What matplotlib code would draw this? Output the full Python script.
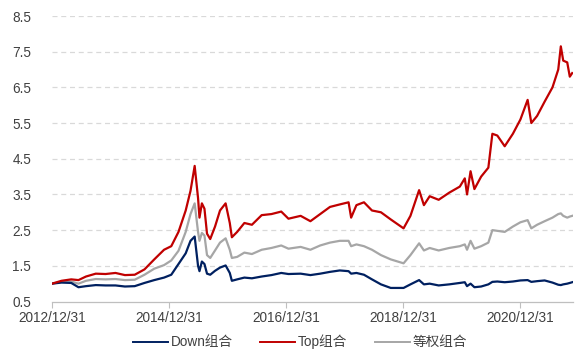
import matplotlib
matplotlib.use("Agg")
import matplotlib.pyplot as plt
import pandas as pd
from matplotlib.lines import Line2D

plt.rcParams['font.family'] = ['Liberation Sans', 'Noto Sans CJK SC', 'DejaVu Sans']

dates = [
    "2013-01-01", "2013-03-01", "2013-05-01", "2013-06-15", "2013-08-01", "2013-10-01",
    "2013-12-01", "2014-02-01", "2014-04-01", "2014-06-01", "2014-08-01", "2014-10-01",
    "2014-12-01", "2015-01-15", "2015-03-01", "2015-04-15", "2015-05-15", "2015-06-10",
    "2015-07-01", "2015-07-10", "2015-07-25", "2015-08-10", "2015-08-26", "2015-09-15",
    "2015-10-15", "2015-11-15", "2015-12-20", "2016-01-15", "2016-01-28", "2016-03-01",
    "2016-04-15", "2016-06-01", "2016-08-01", "2016-10-01", "2016-12-01", "2017-01-15",
    "2017-04-01", "2017-06-01", "2017-08-01", "2017-10-01", "2017-12-01", "2018-01-25",
    "2018-02-10", "2018-03-15", "2018-05-01", "2018-06-20", "2018-08-15", "2018-10-15",
    "2019-01-03", "2019-02-15", "2019-04-10", "2019-05-10", "2019-06-15", "2019-08-10",
    "2019-10-15", "2019-12-20", "2020-01-20", "2020-02-03", "2020-02-25", "2020-03-20",
    "2020-05-01", "2020-06-15", "2020-07-10", "2020-08-10", "2020-09-25", "2020-11-15",
    "2021-01-01", "2021-02-15", "2021-03-10", "2021-04-15", "2021-06-01", "2021-07-20",
    "2021-08-25", "2021-09-10", "2021-09-25", "2021-10-20", "2021-11-05", "2021-11-20",
]

top_vals = [
    1.00, 1.08, 1.12, 1.10, 1.20, 1.28,
    1.27, 1.30, 1.24, 1.25, 1.40, 1.68,
    1.95, 2.05, 2.45, 3.05, 3.60, 4.30,
    3.40, 2.85, 3.25, 3.10, 2.40, 2.25,
    2.60, 3.05, 3.25, 2.70, 2.30, 2.45,
    2.70, 2.65, 2.92, 2.95, 3.02, 2.82,
    2.90, 2.75, 2.95, 3.15, 3.22, 3.28,
    2.85, 3.20, 3.28, 3.05, 3.00, 2.80,
    2.55, 2.90, 3.62, 3.20, 3.45, 3.35,
    3.55, 3.72, 3.95, 3.50, 4.15, 3.65,
    4.00, 4.25, 5.20, 5.15, 4.85, 5.20,
    5.60, 6.15, 5.50, 5.70, 6.10, 6.50,
    7.00, 7.65, 7.25, 7.20, 6.80, 6.90,
]

eq_vals = [
    1.00, 1.05, 1.06, 1.00, 1.08, 1.13,
    1.12, 1.13, 1.10, 1.11, 1.25, 1.42,
    1.52, 1.65, 1.92, 2.45, 2.95, 3.25,
    2.45, 2.20, 2.42, 2.35, 1.80, 1.72,
    1.93, 2.15, 2.27, 1.95, 1.72, 1.75,
    1.87, 1.83, 1.95, 2.00, 2.07, 1.98,
    2.03, 1.95, 2.07, 2.15, 2.20, 2.20,
    2.05, 2.10, 2.05, 1.95, 1.80, 1.68,
    1.57, 1.80, 2.13, 1.93, 2.00, 1.93,
    2.00, 2.05, 2.10, 1.95, 2.20, 1.98,
    2.05, 2.15, 2.50, 2.48, 2.45, 2.60,
    2.72, 2.78, 2.55, 2.65, 2.75, 2.85,
    2.95, 2.97, 2.90, 2.85, 2.88, 2.90,
]

down_vals = [
    1.00, 1.03, 1.02, 0.90, 0.93, 0.96,
    0.95, 0.95, 0.92, 0.93, 1.02, 1.10,
    1.17, 1.25, 1.55, 1.85, 2.20, 2.32,
    1.50, 1.35, 1.62, 1.55, 1.28, 1.25,
    1.36, 1.45, 1.51, 1.30, 1.08, 1.12,
    1.17, 1.15, 1.20, 1.24, 1.30, 1.27,
    1.28, 1.24, 1.28, 1.33, 1.37, 1.35,
    1.28, 1.30, 1.25, 1.12, 0.98, 0.88,
    0.88, 0.98, 1.10, 0.98, 1.00, 0.95,
    0.98, 1.02, 1.04, 0.93, 1.00, 0.90,
    0.92, 0.98, 1.05, 1.06, 1.04, 1.06,
    1.09, 1.10, 1.05, 1.07, 1.09, 1.03,
    0.97, 0.96, 0.98, 1.00, 1.02, 1.04,
]

series_names = ["Down组合", "Top组合", "等权组合"]
y_ticks = [0.5, 1.5, 2.5, 3.5, 4.5, 5.5, 6.5, 7.5, 8.5]
x_tick_labels = ["2012/12/31", "2014/12/31", "2016/12/31", "2018/12/31", "2020/12/31"]
x_tick_dates = ["2013-01-01", "2015-01-01", "2017-01-01", "2019-01-01", "2021-01-01"]

x = pd.to_datetime(dates)

fig = plt.figure(figsize=(5.85, 3.57), dpi=100)
ax = fig.add_axes([52 / 585, 1 - 301.5 / 357, (573 - 52) / 585, (301.5 - 16) / 357])

colors = ["#002060", "#C00000", "#A6A6A6"]
ax.plot(x, down_vals, color=colors[0], lw=1.6, zorder=3)
ax.plot(x, top_vals, color=colors[1], lw=1.6, zorder=4)
ax.plot(x, eq_vals, color=colors[2], lw=1.6, zorder=2)

ax.set_xlim(pd.Timestamp("2013-01-01"), pd.Timestamp("2021-11-25"))
ax.set_ylim(0.5, 8.5)
ax.set_yticks(y_ticks)
ax.set_yticklabels([f"{v:.1f}" for v in y_ticks])
ax.set_xticks(pd.to_datetime(x_tick_dates))
ax.set_xticklabels(x_tick_labels)

for y in y_ticks[1:]:
    ax.axhline(y, color="#D9D9D9", lw=0.9, dashes=(4, 3), zorder=1)

for s in ["top", "right", "left"]:
    ax.spines[s].set_visible(False)
ax.spines["bottom"].set_color("#BFBFBF")
ax.spines["bottom"].set_linewidth(0.9)
ax.tick_params(axis="y", length=0, pad=15, labelsize=9.8, labelcolor="#404040")
ax.tick_params(axis="x", length=4, color="#BFBFBF", pad=3, labelsize=9.8, labelcolor="#404040")

handles = [Line2D([0], [0], color=c, lw=1.4) for c in colors]
fig.legend(handles, series_names, loc="center", bbox_to_anchor=(300 / 585, 1 - 342 / 357),
           ncol=3, frameon=False, fontsize=9.8, handlelength=2.6, handletextpad=0.2,
           columnspacing=2.0, labelcolor="#404040")

fig.savefig("out.png", dpi=100)
